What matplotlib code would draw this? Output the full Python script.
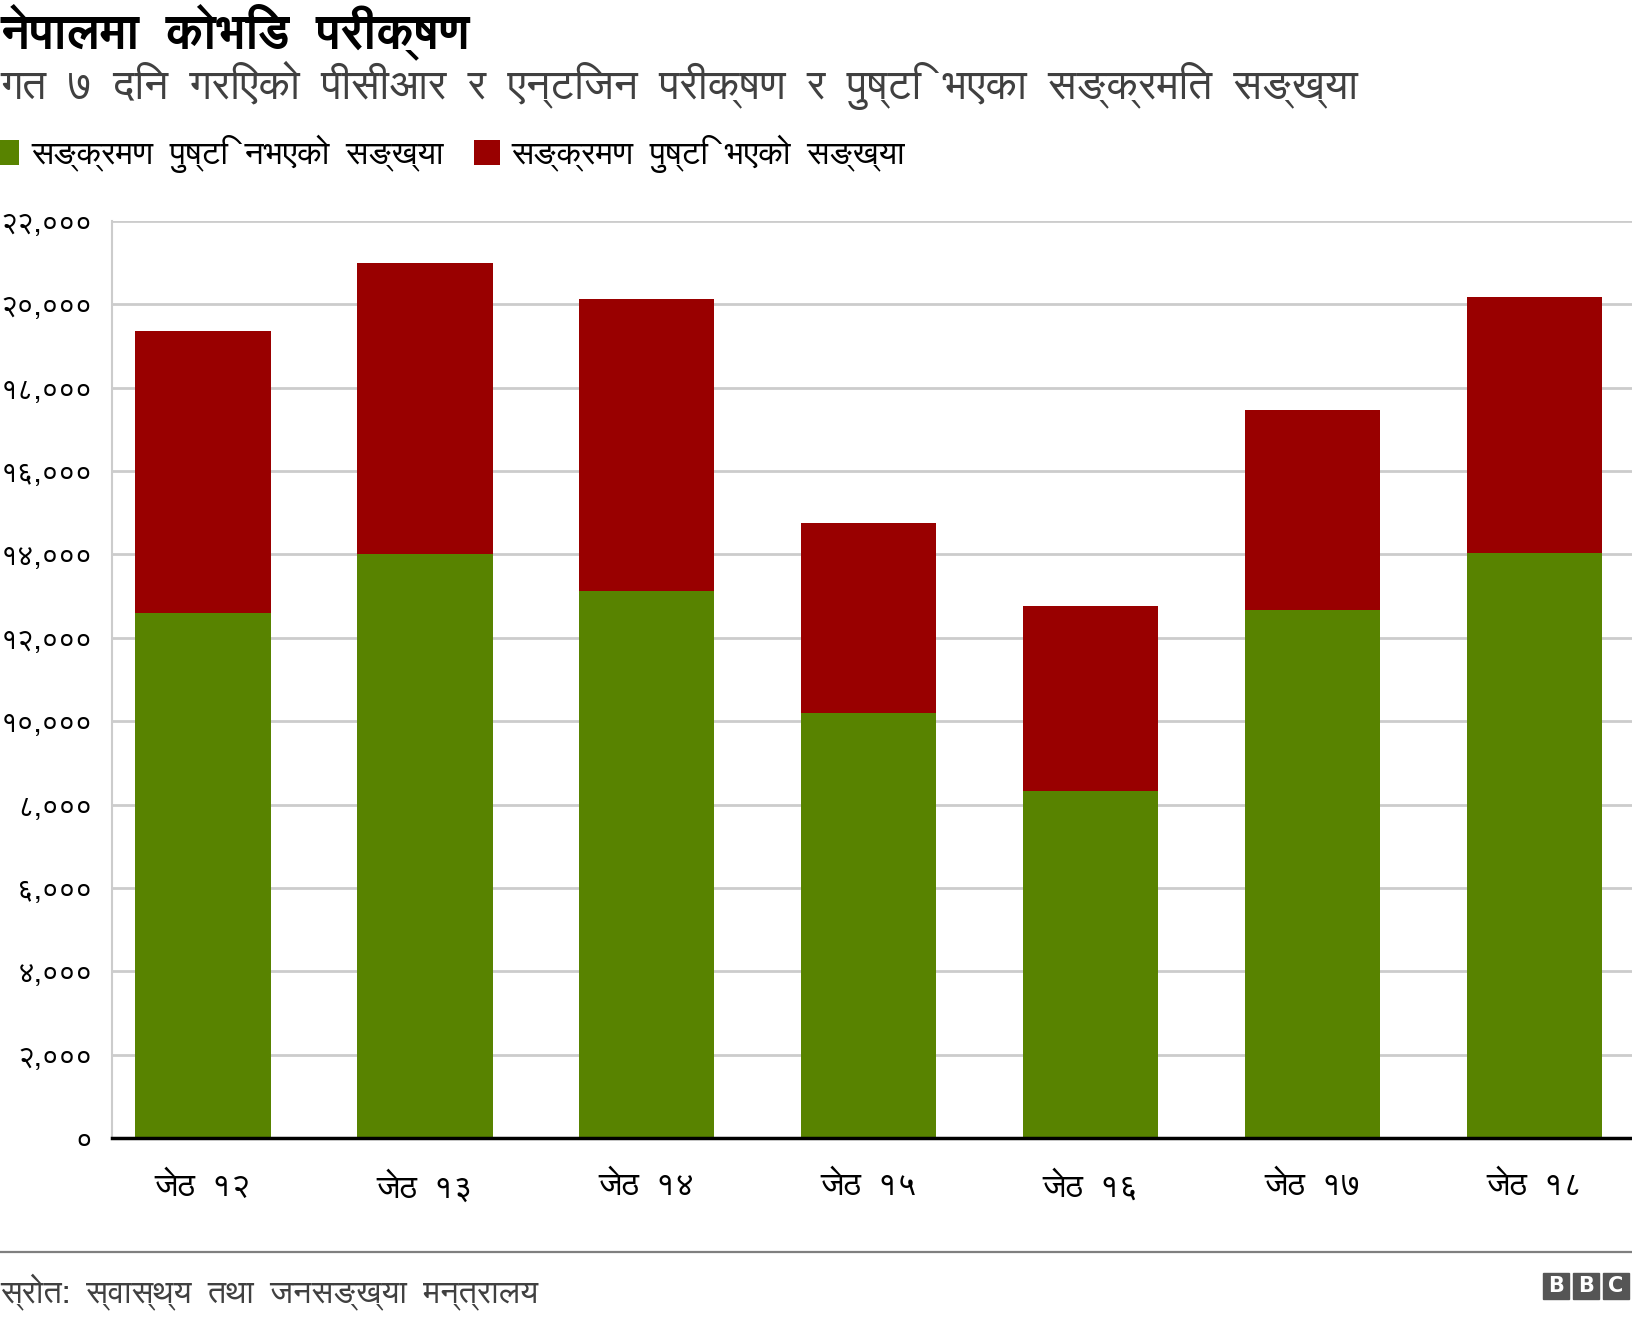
import numpy as np
import matplotlib
matplotlib.use("Agg")
import matplotlib.pyplot as plt
from matplotlib.patches import Rectangle
from matplotlib.lines import Line2D
from matplotlib.ticker import FuncFormatter

# ---- data ----
days = ["जेठ १२", "जेठ १३", "जेठ १४", "जेठ १५", "जेठ १६", "जेठ १७", "जेठ १८"]
negative = [12600, 14000, 13130, 10190, 8320, 12665, 14040]   # सङ्क्रमण पुष्टि नभएको
positive = [6770, 7000, 7005, 4565, 4435, 4805, 6145]         # सङ्क्रमण पुष्टि भएको
y_ticks = [0, 2000, 4000, 6000, 8000, 10000, 12000, 14000, 16000, 18000, 20000, 22000]

title = "नेपालमा कोभिड परीक्षण"
subtitle = "गत ७ दिन गरिएको पीसीआर र एन्टिजन परीक्षण र पुष्टि भएका सङ्क्रमित सङ्ख्या"
legend_labels = ["सङ्क्रमण पुष्टि नभएको सङ्ख्या", "सङ्क्रमण पुष्टि भएको सङ्ख्या"]
source = "स्रोत: स्वास्थ्य तथा जनसङ्ख्या मन्त्रालय"

GREEN = "#588300"
RED = "#990000"

# FreeSans carries Devanagari glyphs; DejaVu as fallback
plt.rcParams["font.family"] = ["FreeSans", "DejaVu Sans"]

DEV = ["0०", "1१", "2२", "3३", "4४", "5५", "6६", "7७", "8८", "9९"]
dev_map = {a[0]: a[1] for a in DEV}


def to_dev(v, pos=None):
    s = f"{int(round(v)):,}"
    return "".join(dev_map.get(c, c) for c in s)


def wide(s):
    # the original uses very wide word spacing
    return s.replace(" ", "  ")


# ---- figure ----
W, H = 1632, 1320
fig = plt.figure(figsize=(W / 100, H / 100), dpi=100)

ax_left, ax_bottom = 112 / W, (H - 1138) / H
ax = fig.add_axes([ax_left, ax_bottom, 1 - ax_left, (1138 - 221) / H])

x = np.arange(len(days))
b1 = ax.bar(x, negative, width=0.61, color=GREEN, zorder=2)
b2 = ax.bar(x, positive, width=0.61, bottom=negative, color=RED, zorder=2)

ax.set_xlim(-0.41, 6.44)
ax.set_ylim(0, 22000)
ax.set_yticks(y_ticks)
ax.yaxis.set_major_formatter(FuncFormatter(to_dev))
ax.set_xticks(x)
ax.set_xticklabels([wide(d) for d in days])
ax.grid(axis="y", color="#cccccc", linewidth=2, zorder=0)
ax.tick_params(axis="y", length=0, pad=14, labelsize=21)
ax.tick_params(axis="x", length=0, pad=24, labelsize=24)
for s in ["top", "right"]:
    ax.spines[s].set_visible(False)
ax.spines["left"].set_color("#cccccc")
ax.spines["left"].set_linewidth(1.5)
ax.spines["bottom"].set_color("black")
ax.spines["bottom"].set_linewidth(2.5)
ax.spines["bottom"].set_zorder(3)

# ---- titles ----
fig.text(0, 1 - 47 / H, wide(title), fontsize=34.5, fontweight="bold", va="baseline", ha="left")
fig.text(0, 1 - 99 / H, wide(subtitle), fontsize=30.5, color="#404040", va="baseline", ha="left")

fig.legend([b1, b2], [wide(l) for l in legend_labels], loc="upper left",
           bbox_to_anchor=(-0.004, 1 - 135 / H),
           ncol=2, frameon=False, fontsize=24, handlelength=0.78, handleheight=0.78,
           handletextpad=0.35, columnspacing=0.9, borderaxespad=0, borderpad=0)

# ---- footer ----
fig.add_artist(Line2D([0, 1], [1 - 1252 / H] * 2, color="#7f7f7f", linewidth=1.6,
                      transform=fig.transFigure))
fig.text(0, 1 - 1303 / H, wide(source), fontsize=23.3, color="#404040", va="baseline", ha="left")

for i, ch in enumerate("BBC"):
    x0 = 1543 + i * 30
    fig.add_artist(Rectangle((x0 / W, 1 - 1299 / H), 26 / W, 26 / H,
                             transform=fig.transFigure, color="#555555"))
    fig.text((x0 + 13) / W, 1 - 1286 / H, ch, color="white", fontsize=15,
             fontweight="bold", ha="center", va="center", family="DejaVu Sans")

fig.savefig("out.png", dpi=100)
